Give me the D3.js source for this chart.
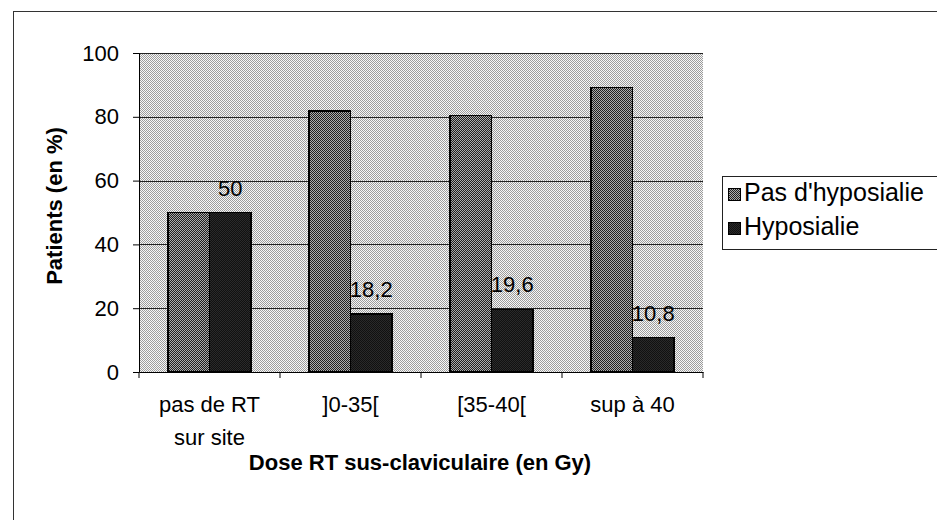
<!DOCTYPE html>
<html>
<head>
<meta charset="utf-8">
<script src="https://cdn.jsdelivr.net/npm/d3@7"></script>
<style>
  body { margin: 0; background: #fff; }
  svg { display: block; font-family: "Liberation Sans", Arial, sans-serif; }
  .tick text { font-size: 22px; fill: #000; }
  .axis-title { font-size: 22px; font-weight: bold; }
</style>
</head>
<body>
<svg id="chart" width="937" height="520"></svg>
<script>
const categories = ["pas de RT sur site", "]0-35[", "[35-40[", "sup à 40"];
const categoryLines = [["pas de RT", "sur site"], ["]0-35["], ["[35-40["], ["sup à 40"]];
const seriesNames = ["Pas d'hyposialie", "Hyposialie"];
const pasHyposialie = [50, 81.8, 80.4, 89.2];
const hyposialie = [50, 18.2, 19.6, 10.8];
const yTicks = [0, 20, 40, 60, 80, 100];

const plot = { left: 139, right: 703, top: 53, bottom: 372 };

const svg = d3.select("#chart");

// dither patterns like the scanned original
const defs = svg.append("defs");
function dither(id, light, dark) {
    const p = defs.append("pattern")
        .attr("id", id)
        .attr("width", 2).attr("height", 2)
        .attr("patternUnits", "userSpaceOnUse");
    p.append("rect").attr("width", 2).attr("height", 2).attr("fill", light);
    p.append("rect").attr("width", 1).attr("height", 1).attr("fill", dark);
    p.append("rect").attr("x", 1).attr("y", 1).attr("width", 1).attr("height", 1).attr("fill", dark);
}
dither("bgPat", "#f7f7f7", "#9c9c9c");
dither("pasPat", "#aaaaaa", "#1e1e1e");
dither("hypPat", "#2a2a2a", "#111");

// outer frame
svg.append("rect")
    .attr("x", 13.5).attr("y", 11.5)
    .attr("width", 960).attr("height", 540)
    .attr("fill", "none")
    .attr("stroke", "#333")
    .attr("stroke-width", 1);

const x0 = d3.scaleBand()
    .domain(categories)
    .range([plot.left, plot.right])
    .padding(0);

const x1 = d3.scaleBand()
    .domain(seriesNames)
    .range([0, x0.bandwidth()])
    .paddingInner(0)
    .paddingOuter(0.7);

const y = d3.scaleLinear()
    .domain([0, 100])
    .range([plot.bottom, plot.top]);

const g = svg.append("g").attr("shape-rendering", "crispEdges");

g.append("rect")
    .attr("x", plot.left).attr("y", plot.top)
    .attr("width", plot.right - plot.left)
    .attr("height", plot.bottom - plot.top)
    .attr("fill", "url(#bgPat)");

// gridlines
g.selectAll(".grid")
    .data(yTicks.filter(d => d > 0))
    .enter()
    .append("line")
    .attr("x1", plot.left).attr("x2", plot.right)
    .attr("y1", d => Math.round(y(d)) + 0.5)
    .attr("y2", d => Math.round(y(d)) + 0.5)
    .attr("stroke", "#222");

const rows = categories.map((c, i) => ({
    cat: c,
    values: [pasHyposialie[i], hyposialie[i]]
}));

const groups = g.selectAll(".grp")
    .data(rows)
    .enter()
    .append("g")
    .attr("transform", d => `translate(${x0(d.cat)},0)`);

groups.selectAll("rect")
    .data(d => d.values.map((v, j) => ({ s: seriesNames[j], v: v })))
    .enter()
    .append("rect")
    .attr("x", d => x1(d.s))
    .attr("y", d => y(d.v))
    .attr("width", x1.bandwidth())
    .attr("height", d => plot.bottom - y(d.v))
    .attr("fill", (d, j) => j === 0 ? "url(#pasPat)" : "url(#hypPat)")
    .attr("stroke", "#000")
    .attr("stroke-width", 1.5);

// value labels on the Hyposialie series
svg.selectAll(".vlabel")
    .data(rows)
    .enter()
    .append("text")
    .attr("x", d => x0(d.cat) + x1(seriesNames[1]) + x1.bandwidth() / 2)
    .attr("y", d => y(d.values[1]) - 17)
    .attr("text-anchor", "middle")
    .attr("font-size", 22)
    .text(d => String(d.values[1]).replace(".", ","));

// axes
const yAxis = svg.append("g")
    .attr("transform", `translate(${plot.left},0)`)
    .call(d3.axisLeft(y).tickValues(yTicks).tickSize(6).tickPadding(14).tickFormat(d3.format("d")));

const xAxis = svg.append("g")
    .attr("transform", `translate(0,${plot.bottom})`)
    .call(d3.axisBottom(x0).tickSize(0).tickFormat(""));

xAxis.selectAll(".tickmark")
    .data(categories.concat(["end"]))
    .enter()
    .append("line")
    .attr("x1", (d, i) => i < categories.length ? x0(d) : plot.right)
    .attr("x2", (d, i) => i < categories.length ? x0(d) : plot.right)
    .attr("y1", 0).attr("y2", 6)
    .attr("stroke", "#000");

[yAxis, xAxis].forEach(a => {
    a.selectAll(".domain").attr("stroke", "#000");
    a.selectAll("line").attr("stroke", "#000");
});

// category labels (two lines for the first)
const catText = svg.selectAll(".cat")
    .data(categories)
    .enter()
    .append("text")
    .attr("text-anchor", "middle")
    .attr("font-size", 22)
    .attr("x", d => x0(d) + x0.bandwidth() / 2)
    .attr("y", 412);

catText.selectAll("tspan")
    .data((d, i) => categoryLines[i])
    .enter()
    .append("tspan")
    .attr("x", function() { return d3.select(this.parentNode).attr("x"); })
    .attr("dy", (d, i) => i === 0 ? 0 : 33)
    .text(d => d);

svg.append("text")
    .attr("class", "axis-title")
    .attr("text-anchor", "middle")
    .attr("x", 420)
    .attr("y", 470)
    .text("Dose RT sus-claviculaire (en Gy)");

svg.append("text")
    .attr("class", "axis-title")
    .attr("text-anchor", "middle")
    .attr("transform", "rotate(-90)")
    .attr("x", -206)
    .attr("y", 62)
    .text("Patients (en %)");

// legend
const legend = svg.append("g").attr("shape-rendering", "crispEdges");
legend.append("rect")
    .attr("x", 722.5).attr("y", 176.5)
    .attr("width", 240).attr("height", 73)
    .attr("fill", "#fff")
    .attr("stroke", "#222");

const items = legend.selectAll(".item")
    .data(seriesNames)
    .enter()
    .append("g")
    .attr("transform", (d, i) => `translate(728,${188 + i * 34})`);

items.append("rect")
    .attr("width", 12).attr("height", 12)
    .attr("fill", (d, i) => i === 0 ? "url(#pasPat)" : "url(#hypPat)")
    .attr("stroke", "#000");

items.append("text")
    .attr("x", 16)
    .attr("y", 13)
    .attr("font-size", 25)
    .text(d => d);
</script>
</body>
</html>
